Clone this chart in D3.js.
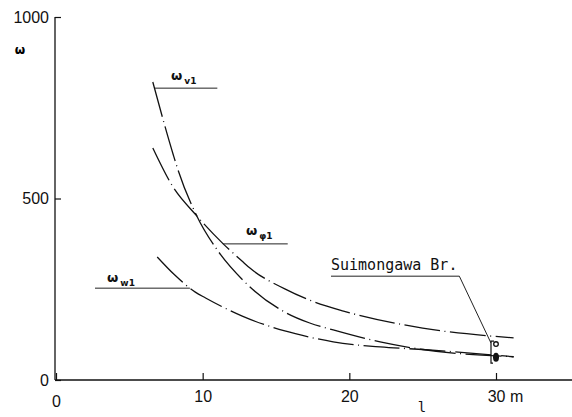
<!DOCTYPE html>
<html>
<head>
<meta charset="utf-8">
<script src="https://cdn.jsdelivr.net/npm/d3@7"></script>
<style>
  html, body { margin: 0; padding: 0; background: #fff; }
  svg { display: block; }
  .tick text { font-family: "Liberation Sans", Arial, sans-serif; font-size: 16px; fill: #111; }
</style>
</head>
<body>
<svg id="chart" width="572" height="417"></svg>
<script>
// Span length l (m) and frequency parameter ω for the three modes
const lengthsV = [6.6, 8.0, 8.3, 9.6, 11.0, 12.75, 13.4, 15.6, 17.3, 18.9, 22.1, 25.0, 31.2];
const omegaV   = [821, 620, 581, 452, 358, 275, 250, 187, 157, 138, 105, 84, 64];

const lengthsPhi = [6.6, 7.9, 9.6, 11.4, 12.7, 13.2, 15.6, 17.3, 19.6, 25.0, 31.2];
const omegaPhi   = [639, 537, 452, 375, 327, 309, 251, 220, 190, 143, 116];

const lengthsW = [6.9, 8.1, 9.5, 10.2, 12.7, 15.6, 17.3, 18.9, 22.1, 25.0, 31.2];
const omegaW   = [339, 289, 242, 226, 176, 135, 118, 105, 91, 84, 64];

// Measured bridge (Suimongawa Br.) at l = 30 m
const bridgeLength = 30;
const bridgeOpen = 99;
const bridgeFilled = 63;

const xTicks = [0, 10, 20, 30];
const yTicks = [0, 500, 1000];

const svg = d3.select("#chart");
const W = 572;

const x = d3.scaleLinear().domain([0, 30]).range([56, 496]);
const y = d3.scaleLinear().domain([0, 1000]).range([380, 17]);

// Axes
const xAxis = d3.axisBottom(x)
  .tickValues(xTicks)
  .tickSizeInner(-7)
  .tickSizeOuter(0)
  .tickPadding(11)
  .tickFormat(d => d === 30 ? "30 m" : String(d));

const gx = svg.append("g").attr("transform", `translate(0,${y(0)})`).call(xAxis);
gx.select(".domain").remove();
gx.selectAll(".tick line").attr("stroke", "#111").attr("stroke-width", 1.2);
gx.selectAll(".tick text").filter(d => d === 30).attr("dx", 9);
gx.selectAll(".tick text").filter(d => d === 0).attr("dy", "1.0em");
gx.append("line")
  .attr("x1", x(0) - 1).attr("x2", W)
  .attr("y1", 0).attr("y2", 0)
  .attr("stroke", "#111").attr("stroke-width", 1.5);

const yAxis = d3.axisLeft(y)
  .tickValues(yTicks)
  .tickSizeInner(-6)
  .tickSizeOuter(0)
  .tickPadding(6)
  .tickFormat(d3.format("d"));

const gy = svg.append("g").attr("transform", `translate(${x(0) - 1},0)`).call(yAxis);
gy.select(".domain").remove();
gy.selectAll(".tick line").attr("stroke", "#111").attr("stroke-width", 1.2);
gy.append("line")
  .attr("x1", 0).attr("x2", 0)
  .attr("y1", y(0)).attr("y2", y(1000))
  .attr("stroke", "#111").attr("stroke-width", 1.3);

// Axis titles
svg.append("text")
  .attr("x", 20).attr("y", 54)
  .attr("text-anchor", "middle")
  .attr("font-family", "DejaVu Sans, sans-serif")
  .attr("font-weight", "bold")
  .attr("font-size", 12)
  .text("ω");

svg.append("text")
  .attr("x", 422).attr("y", 412)
  .attr("text-anchor", "middle")
  .attr("font-family", "DejaVu Sans Mono, monospace")
  .attr("font-size", 14)
  .attr("fill", "#111")
  .text("l");

// Dash-dot curves
const line = d3.line()
  .x(d => x(d[0]))
  .y(d => y(d[1]))
  .curve(d3.curveMonotoneX);

const series = [
  d3.zip(lengthsV, omegaV),
  d3.zip(lengthsPhi, omegaPhi),
  d3.zip(lengthsW, omegaW)
];

svg.selectAll("path.curve")
  .data(series)
  .join("path")
  .attr("class", "curve")
  .attr("d", line)
  .attr("fill", "none")
  .attr("stroke", "#111")
  .attr("stroke-width", 1.3)
  .attr("stroke-dasharray", "36,4.5,1,4.5");

// Curve labels with leader lines
function leader(points) {
  svg.append("path")
    .attr("d", d3.line().x(d => x(d[0])).y(d => y(d[1]))(points))
    .attr("fill", "none")
    .attr("stroke", "#222")
    .attr("stroke-width", 1);
}

function omegaLabel(px, py, sub) {
  const t = svg.append("text")
    .attr("x", px).attr("y", py)
    .attr("font-family", "DejaVu Sans, sans-serif")
    .attr("font-weight", "bold")
    .attr("font-size", 13)
    .attr("fill", "#111");
  t.append("tspan").text("ω");
  t.append("tspan")
    .attr("dx", 2).attr("dy", 4)
    .attr("font-size", 9)
    .text(sub);
}

leader([[6.75, 804], [11.0, 804]]);
omegaLabel(171, 80, "v1");

leader([[11.38, 375], [15.8, 375]]);
omegaLabel(246, 235, "φ1");

leader([[2.66, 253], [9.13, 253]]);
omegaLabel(107, 282, "w1");

// Suimongawa Br. annotation
svg.append("text")
  .attr("x", x(18.75)).attr("y", 270)
  .attr("font-family", "DejaVu Sans Mono, monospace")
  .attr("font-size", 15)
  .attr("fill", "#111")
  .text("Suimongawa Br.");

const bx = x(bridgeLength) - 5;
svg.append("path")
  .attr("d", d3.line()([
    [x(18.75), y(286)], [x(27.5), y(286)], [bx, y(bridgeOpen) - 1]
  ]))
  .attr("fill", "none")
  .attr("stroke", "#222")
  .attr("stroke-width", 1);

// bracket around the measured pair
svg.append("path")
  .attr("d", d3.line()([
    [bx + 3, y(bridgeOpen) - 3], [bx, y(bridgeOpen) - 3],
    [bx, y(bridgeFilled) + 6], [bx + 2, y(bridgeFilled) + 6]
  ]))
  .attr("fill", "none")
  .attr("stroke", "#111")
  .attr("stroke-width", 1.2);

svg.append("circle")
  .attr("cx", x(bridgeLength)).attr("cy", y(bridgeOpen))
  .attr("r", 2.3)
  .attr("fill", "#fff")
  .attr("stroke", "#111")
  .attr("stroke-width", 1.3);

svg.append("ellipse")
  .attr("cx", x(bridgeLength)).attr("cy", y(bridgeFilled))
  .attr("rx", 3).attr("ry", 4.5)
  .attr("fill", "#111");
</script>
</body>
</html>
